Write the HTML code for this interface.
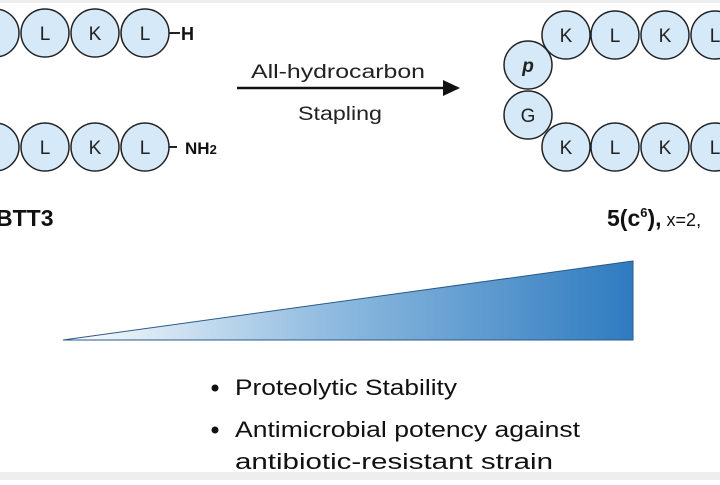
<!DOCTYPE html>
<html><head><style>html,body{margin:0;padding:0;background:#fff;}</style></head>
<body>
<svg width="720" height="480" viewBox="0 0 720 480" xmlns="http://www.w3.org/2000/svg" font-family="Liberation Sans, sans-serif">
<defs>
<linearGradient id="g" x1="63" y1="0" x2="633" y2="0" gradientUnits="userSpaceOnUse">
<stop offset="0" stop-color="#ffffff"/><stop offset="0.45" stop-color="#93bde0"/><stop offset="1" stop-color="#2f7bc0"/>
</linearGradient>
</defs>
<rect x="0" y="0" width="720" height="3" fill="#eee"/>
<g stroke="#222" stroke-width="1.5" fill="#d5e9f8">
<circle cx="-5" cy="33" r="24"/><circle cx="45" cy="33" r="24"/><circle cx="95" cy="33" r="24"/><circle cx="145" cy="33" r="24"/>
<circle cx="-5" cy="147" r="24"/><circle cx="45" cy="147" r="24"/><circle cx="95" cy="147" r="24"/><circle cx="145" cy="147" r="24"/>
<circle cx="528" cy="65" r="24"/><circle cx="528" cy="115" r="24"/>
<circle cx="566" cy="35" r="24"/><circle cx="615" cy="35" r="24"/><circle cx="665" cy="35" r="24"/><circle cx="715" cy="35" r="24"/>
<circle cx="566" cy="147" r="24"/><circle cx="615" cy="147" r="24"/><circle cx="665" cy="147" r="24"/><circle cx="715" cy="147" r="24"/>
</g>
<g font-size="19" fill="#222" text-anchor="middle">
<text x="45" y="40">L</text><text x="95" y="40">K</text><text x="145" y="40">L</text>
<text x="45" y="154">L</text><text x="95" y="154">K</text><text x="145" y="154">L</text>
<text x="528" y="72" font-weight="bold" font-style="italic">p</text><text x="528" y="122">G</text>
<text x="566" y="42">K</text><text x="615" y="42">L</text><text x="665" y="42">K</text><text x="715" y="42">L</text>
<text x="566" y="154">K</text><text x="615" y="154">L</text><text x="665" y="154">K</text><text x="715" y="154">L</text>
</g>
<line x1="169" y1="33" x2="180" y2="33" stroke="#222" stroke-width="2"/>
<text x="181" y="40" font-size="18" font-weight="bold" fill="#111">H</text>
<line x1="169" y1="147" x2="177" y2="147" stroke="#222" stroke-width="2"/>
<text x="185" y="154" font-size="17" font-weight="bold" fill="#111">NH<tspan font-size="13">2</tspan></text>
<line x1="237" y1="88" x2="445" y2="88" stroke="#111" stroke-width="2.5"/>
<polygon points="460,88 443,80 443,96" fill="#111"/>
<text x="251" y="78" font-size="19" textLength="174" lengthAdjust="spacingAndGlyphs" fill="#222">All-hydrocarbon</text>
<text x="298" y="120" font-size="19" textLength="84" lengthAdjust="spacingAndGlyphs" fill="#222">Stapling</text>
<text x="-4" y="226" font-size="23" font-weight="bold" fill="#111">BTT3</text>
<text x="607" y="226" font-size="23" font-weight="bold" fill="#111">5(c<tspan font-size="13" dy="-9">6</tspan><tspan dy="9">),</tspan><tspan font-weight="normal" font-size="18"> x=2,</tspan></text>
<polygon points="63,340 633,261 633,340" fill="url(#g)" stroke="#2a5a8a" stroke-width="1"/>
<g font-size="22" fill="#111">
<circle cx="215" cy="388" r="3.5"/><text x="235" y="395" textLength="222" lengthAdjust="spacingAndGlyphs">Proteolytic Stability</text>
<circle cx="215" cy="430" r="3.5"/><text x="235" y="437" textLength="345" lengthAdjust="spacingAndGlyphs">Antimicrobial potency against</text>
<text x="235" y="469" textLength="318" lengthAdjust="spacingAndGlyphs">antibiotic-resistant strain</text>
</g>
<rect x="0" y="472" width="720" height="8" fill="#eeeeee"/>
</svg>
</body></html>
